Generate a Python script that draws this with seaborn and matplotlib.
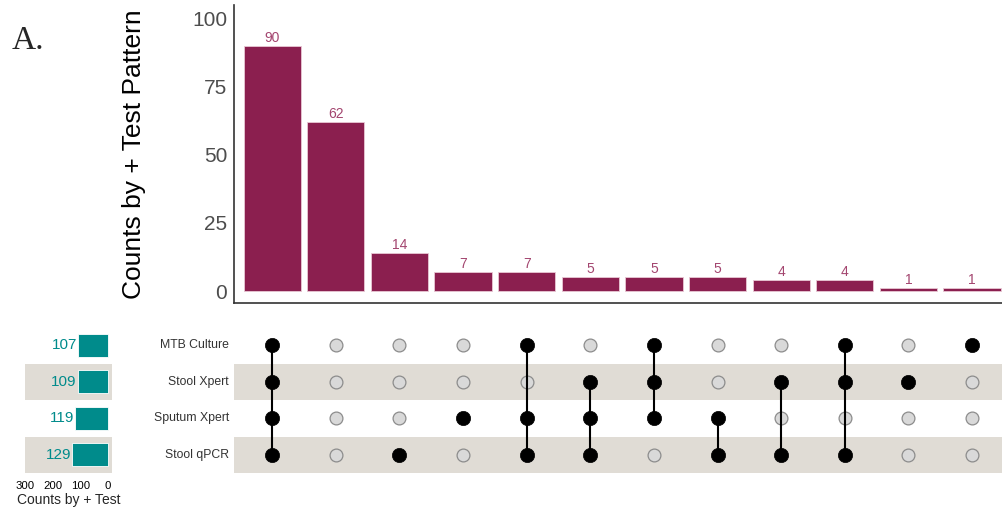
import numpy as np
import pandas as pd
import matplotlib
matplotlib.use("Agg")
import matplotlib.pyplot as plt
import seaborn as sns

# test sets (top to bottom in the matrix)
tests = ["MTB Culture", "Stool Xpert", "Sputum Xpert", "Stool qPCR"]
test_totals = [107, 109, 119, 129]

# intersection patterns, in bar order (1 = test positive)
pattern_counts = [90, 62, 14, 7, 7, 5, 5, 5, 4, 4, 1, 1]
mtb_culture  = [1, 0, 0, 0, 1, 0, 1, 0, 0, 1, 0, 1]
stool_xpert  = [1, 0, 0, 0, 0, 1, 1, 0, 1, 1, 1, 0]
sputum_xpert = [1, 0, 0, 1, 1, 1, 1, 1, 0, 0, 0, 0]
stool_qpcr   = [1, 0, 1, 0, 1, 1, 0, 1, 1, 1, 0, 0]

bar_col = "#8B1F4F"
lab_col = "#A3456F"
teal = "#008B8B"
band = "#E0DCD5"

sns.set_style("white")
plt.rcParams["font.family"] = ["Liberation Sans", "DejaVu Sans"]

fig = plt.figure(figsize=(10.02, 5.13), dpi=100)
W, H = 1002, 513

def ax_at(x0, y0, x1, y1):
    return fig.add_axes([x0 / W, 1 - y1 / H, (x1 - x0) / W, (y1 - y0) / H])

n = len(pattern_counts)
xs = np.arange(n)

# --- top bar chart
ax = ax_at(234, 5, 1002, 303)
bars = pd.DataFrame({"pattern": xs, "count": pattern_counts})
sns.barplot(data=bars, x="pattern", y="count", color=bar_col, width=0.9,
            saturation=1, edgecolor="#E8C8D4", linewidth=0.6, ax=ax, native_scale=True)
for x, c in zip(xs, pattern_counts):
    ax.text(x, c + 0.4, str(c), ha="center", va="bottom", fontsize=10, color=lab_col)
ax.set_xlim(-0.6, n - 0.53)
ax.set_ylim(-4.4, 105)
ax.set_yticks([0, 25, 50, 75, 100])
ax.tick_params(axis="y", labelsize=15, labelcolor="#4D4D4D", length=0, pad=5)
ax.set_xticks([])
ax.set_xlabel("")
ax.set_ylabel("Counts by + Test Pattern", fontsize=19, color="black", labelpad=33)
for s in ["top", "right"]:
    ax.spines[s].set_visible(False)
for s in ["left", "bottom"]:
    ax.spines[s].set_color("#333333")
    ax.spines[s].set_linewidth(1.2)

# --- matrix
axm = ax_at(234, 327, 1002, 473)
axm.set_xlim(-0.6, n - 0.53)
axm.set_ylim(len(tests) - 0.5, -0.5)
for i in range(len(tests)):
    if i % 2 == 1:
        axm.axhspan(i - 0.5, i + 0.5, color=band, lw=0, zorder=0)
rows = [mtb_culture, stool_xpert, sputum_xpert, stool_qpcr]
mat = pd.DataFrame([(x, r, rows[r][x]) for r in range(len(tests)) for x in xs],
                   columns=["pattern", "row", "on"])
off = mat[mat["on"] == 0]
on = mat[mat["on"] == 1]
sns.scatterplot(data=off, x="pattern", y="row", s=85, color="#D9D9D9",
                edgecolor="#8C8C8C", linewidth=0.9, ax=axm, zorder=2)
for x in xs:
    act = on[on["pattern"] == x]["row"]
    if len(act) > 1:
        axm.plot([x, x], [act.min(), act.max()], color="black", lw=1.5, zorder=3)
sns.scatterplot(data=on, x="pattern", y="row", s=105, color="black",
                edgecolor="black", linewidth=0.5, ax=axm, zorder=4)
axm.set_xticks([])
axm.set_yticks([])
axm.set_xlabel("")
axm.set_ylabel("")
for s in axm.spines.values():
    s.set_visible(False)
for i, t in enumerate(tests):
    axm.text(-0.68, i, t, ha="right", va="center", fontsize=8.8, color="#333333")

# --- set size bars
axl = ax_at(25, 327, 112, 473)
axl.set_ylim(len(tests) - 0.5, -0.5)
for i in range(len(tests)):
    if i % 2 == 1:
        axl.axhspan(i - 0.5, i + 0.5, color=band, lw=0, zorder=0)
sz = pd.DataFrame({"row": np.arange(len(tests)), "total": test_totals})
sns.barplot(data=sz, x="total", y="row", orient="h", color=teal, saturation=1,
            width=0.62, edgecolor="white", linewidth=0.6, ax=axl, native_scale=True)
for i, v in enumerate(test_totals):
    axl.text(v + 4, i, str(v), ha="right", va="center", fontsize=11, color=teal)
axl.set_xlim(289, -14)
axl.set_ylim(len(tests) - 0.5, -0.5)
axl.set_xticks([300, 200, 100, 0])
axl.tick_params(axis="x", labelsize=8.2, length=0, pad=6, labelcolor="black")
axl.set_yticks([])
axl.set_ylabel("")
axl.set_xlabel("Counts by + Test", fontsize=10, labelpad=1)
for s in axl.spines.values():
    s.set_visible(False)

fig.text(12 / W, 1 - 41 / H, "A.", fontsize=24, family=["Liberation Serif", "DejaVu Serif"],
         va="center", ha="left")

fig.savefig("out.png", dpi=100)
